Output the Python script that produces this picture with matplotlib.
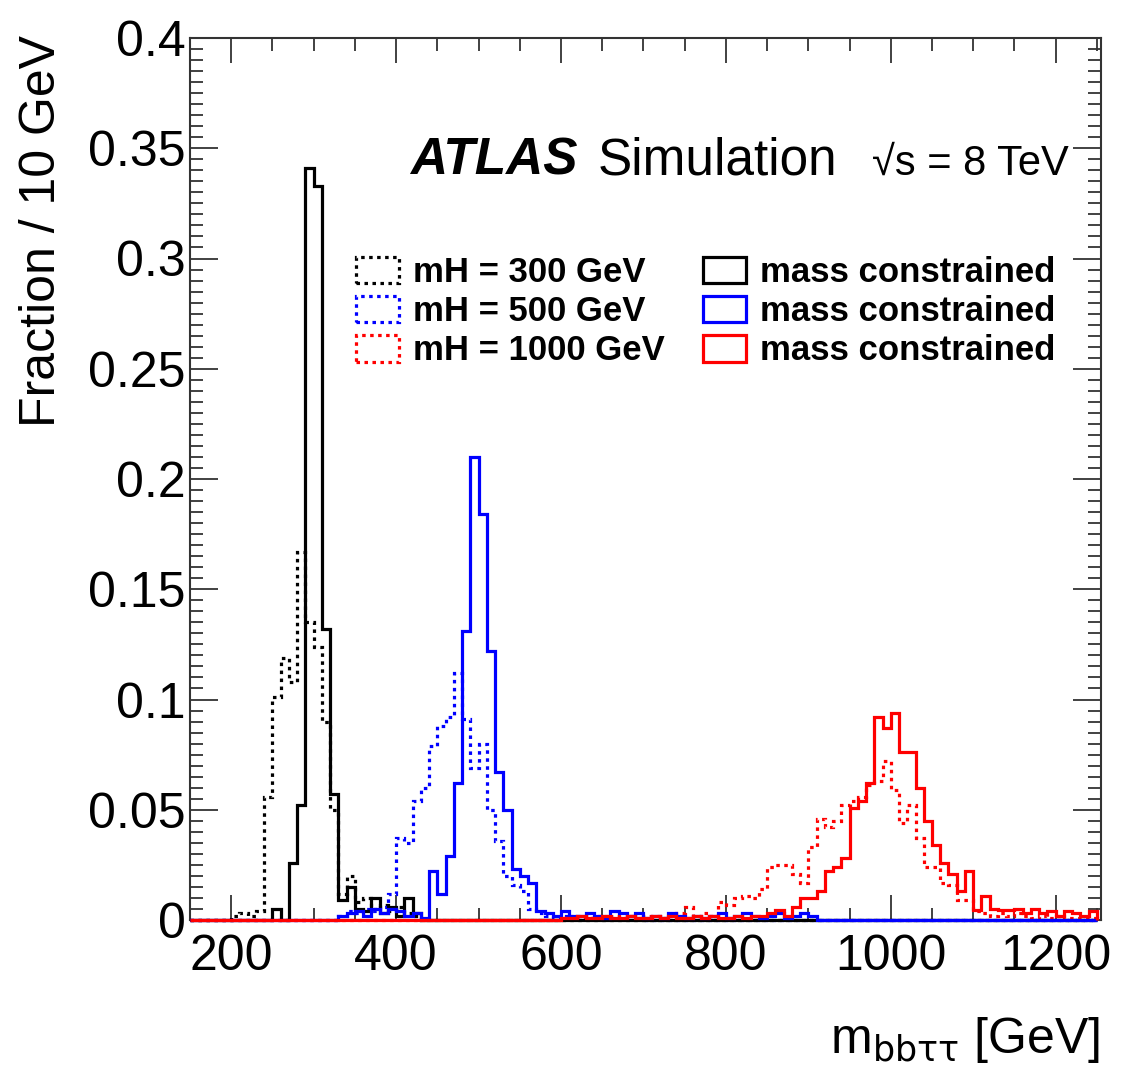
import numpy as np
import matplotlib
matplotlib.use("Agg")
import matplotlib.pyplot as plt
from matplotlib.patches import Patch
from matplotlib.ticker import MultipleLocator

plt.rcParams["font.family"] = ["Liberation Sans", "DejaVu Sans"]

# histogram binning (GeV)
bin_width = 10
x_lo, x_hi = 150, 1250

# mH = 300 GeV
raw300_start = 200
raw300 = [0.002, 0.003, 0.002, 0.004, 0.056, 0.101, 0.119, 0.108, 0.167, 0.135,
          0.124, 0.090, 0.050, 0.012, 0.020, 0.008, 0.010, 0.005, 0.007, 0.004,
          0.006, 0.003, 0.002]
con300_start = 250
con300 = [0.005, 0.0, 0.026, 0.052, 0.341, 0.333, 0.132, 0.057, 0.009, 0.015,
          0.005, 0.004, 0.010, 0.003, 0.006, 0.002, 0.010, 0.003]

# mH = 500 GeV
raw500_start = 330
raw500 = [0.002, 0.004, 0.003, 0.005, 0.004, 0.006, 0.012, 0.037, 0.035, 0.054,
          0.060, 0.079, 0.088, 0.092, 0.112, 0.091, 0.069, 0.080, 0.050, 0.036,
          0.020, 0.016, 0.013, 0.005, 0.003, 0.002, 0.001, 0.002, 0.001, 0.002,
          0.001, 0.001, 0.002, 0.001, 0.001, 0.002, 0.001]
con500_start = 330
con500 = [0.002, 0.003, 0.004, 0.002, 0.005, 0.003, 0.005, 0.004, 0.002, 0.003,
          0.001, 0.022, 0.012, 0.029, 0.062, 0.131, 0.210, 0.184, 0.122, 0.067,
          0.050, 0.023, 0.020, 0.017, 0.004, 0.003, 0.002, 0.004, 0.002, 0.002,
          0.003, 0.002, 0.001, 0.004, 0.003, 0.002, 0.003, 0.001, 0.002, 0.001,
          0.003, 0.002, 0.001, 0.002, 0.001, 0.002, 0.003, 0.001, 0.002, 0.003,
          0.002, 0.001, 0.002, 0.003, 0.001, 0.002, 0.003, 0.002]

# mH = 1000 GeV
raw1000_start = 600
raw1000 = [0.001, 0.002, 0.001, 0.001, 0.002, 0.001, 0.002, 0.001, 0.002, 0.001,
           0.002, 0.002, 0.001, 0.002, 0.003, 0.006, 0.002, 0.003, 0.002, 0.008,
           0.007, 0.010, 0.011, 0.010, 0.014, 0.024, 0.025, 0.025, 0.021, 0.017,
           0.033, 0.046, 0.042, 0.045, 0.052, 0.054, 0.056, 0.061, 0.063, 0.072,
           0.059, 0.044, 0.052, 0.037, 0.024, 0.024, 0.017, 0.016, 0.009, 0.009,
           0.004, 0.003, 0.002, 0.003, 0.002, 0.003, 0.002, 0.001, 0.002, 0.001,
           0.002, 0.001, 0.001, 0.001, 0.001]
con1000_start = 600
con1000 = [0.001, 0.001, 0.002, 0.001, 0.001, 0.002, 0.001, 0.001, 0.002, 0.001,
           0.001, 0.002, 0.001, 0.002, 0.001, 0.001, 0.002, 0.001, 0.002, 0.001,
           0.001, 0.002, 0.001, 0.002, 0.002, 0.003, 0.0045, 0.002, 0.006, 0.010,
           0.010, 0.013, 0.022, 0.024, 0.028, 0.051, 0.054, 0.062, 0.092, 0.087,
           0.094, 0.076, 0.076, 0.060, 0.045, 0.034, 0.026, 0.021, 0.013, 0.022,
           0.0045, 0.011, 0.005, 0.0045, 0.0045, 0.005, 0.003, 0.005, 0.003, 0.004,
           0.002, 0.004, 0.003, 0.002, 0.004]

edges = np.arange(x_lo, x_hi + bin_width, bin_width)


def full_hist(start, vals):
    h = np.zeros(len(edges) - 1)
    i = (start - x_lo) // bin_width
    h[i:i + len(vals)] = vals
    return h


dotted = (0, (1.1, 1.4))
series = [
    (raw300_start, raw300, "black", dotted),
    (raw500_start, raw500, "blue", dotted),
    (raw1000_start, raw1000, "red", dotted),
    (con300_start, con300, "black", "-"),
    (con500_start, con500, "blue", "-"),
    (con1000_start, con1000, "red", "-"),
]

fig = plt.figure(figsize=(11.21, 10.74), dpi=100)
ax = fig.add_axes([190 / 1121, 1 - 920 / 1074, 911 / 1121, 882 / 1074])

for start, vals, col, ls in series:
    ax.stairs(full_hist(start, vals), edges, color=col, lw=2.3, linestyle=ls,
              zorder=3, clip_on=False)

ax.set_xlim(150, 1255)
ax.set_ylim(0, 0.4)
ax.xaxis.set_major_locator(MultipleLocator(200))
ax.xaxis.set_minor_locator(MultipleLocator(50))
ax.yaxis.set_minor_locator(MultipleLocator(0.005))
ax.set_yticks([0, 0.05, 0.1, 0.15, 0.2, 0.25, 0.3, 0.35, 0.4])
ax.set_yticklabels(["0", "0.05", "0.1", "0.15", "0.2", "0.25", "0.3", "0.35", "0.4"])
ax.tick_params(which="both", direction="in", top=True, right=True,
               labelsize=36, color="#333333", width=1.3)
ax.tick_params(axis="y", which="major", length=20, pad=3)
ax.tick_params(axis="y", which="minor", length=9.5)
ax.tick_params(axis="x", which="major", length=18, pad=10)
ax.tick_params(axis="x", which="minor", length=9)
for s in ax.spines.values():
    s.set_linewidth(1.5)
    s.set_color("#333333")

fig.text(42 / 1121, 1 - 35 / 1074, "Fraction / 10 GeV", rotation=90,
         ha="center", va="top", fontsize=36)
fig.text(1100 / 1121, 1 - 1040 / 1074, "m$_{\\mathrm{bb\u03c4\u03c4}}$ [GeV]",
         ha="right", va="center", fontsize=36)

ax.text(0.2415, 0.845, "ATLAS", transform=ax.transAxes, fontsize=37,
        fontweight="bold", fontstyle="italic", va="baseline")
ax.text(0.448, 0.845, "Simulation", transform=ax.transAxes, fontsize=37,
        va="baseline")
ax.text(0.749, 0.845, "\u221as = 8 TeV", transform=ax.transAxes, fontsize=30,
        va="baseline")

leg_font = {"weight": "bold", "size": 25}
left_handles = [Patch(facecolor="none", edgecolor=c, linestyle=dotted, lw=2.3)
                for c in ["black", "blue", "red"]]
right_handles = [Patch(facecolor="none", edgecolor=c, lw=2.3)
                 for c in ["black", "blue", "red"]]
leg_kw = dict(loc="upper left", frameon=False, prop=leg_font, handlelength=1.25,
              handleheight=0.8, handletextpad=0.4, labelspacing=0.18,
              borderpad=0, borderaxespad=0)
fig.legend(left_handles, ["mH = 300 GeV", "mH = 500 GeV", "mH = 1000 GeV"],
           bbox_to_anchor=(356 / 1121, 1 - 256 / 1074), **leg_kw)
fig.legend(right_handles, ["mass constrained"] * 3,
           bbox_to_anchor=(703 / 1121, 1 - 256 / 1074), **leg_kw)

fig.savefig("out.png", dpi=100)
